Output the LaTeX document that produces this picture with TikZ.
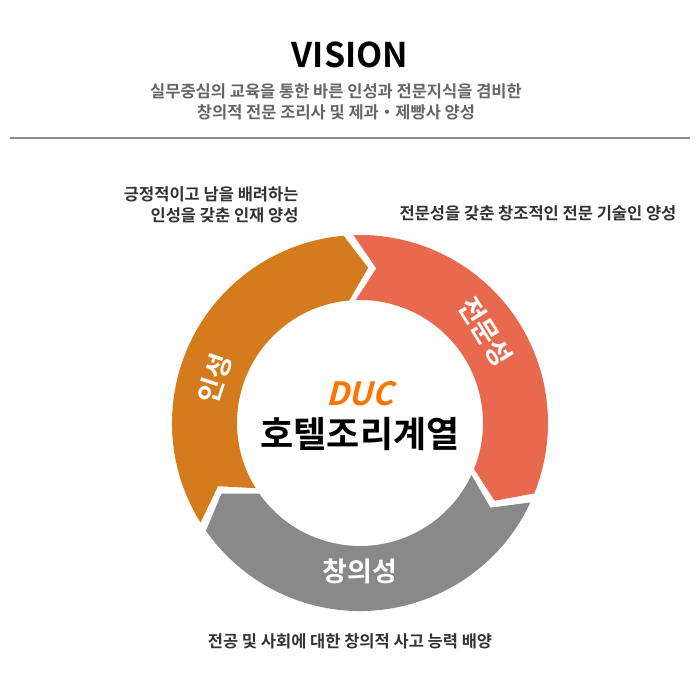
\documentclass[tikz,border=0pt]{standalone}
\usepackage{fontspec}
\usetikzlibrary{calc}
\newfontfamily\kr{Noto Sans CJK KR Bold}
\newfontfamily\krs{Noto Sans CJK KR Bold}[FakeSlant=0.25]
\definecolor{cor}{HTML}{D47B1E}
\definecolor{cred}{HTML}{E8694D}
\definecolor{cgr}{HTML}{898989}
\definecolor{ctx}{HTML}{333333}
\begin{document}
\begin{tikzpicture}[x=1pt,y=1pt,
  captext/.style={font=\kr\fontsize{16.5}{21}\selectfont, text=ctx},
  lbl/.style={font=\kr\fontsize{27}{30}\selectfont, text=white}]
\useasboundingbox (0,0) rectangle (700,700);
\def\ri{123}\def\ro{188}\def\rm{155.5}\def\dd{8}
\coordinate (c) at (360,277);
\newcommand{\segm}[3]{%
 \fill[#3] ($(c)+(#1:\ro)$) arc[start angle=#1,end angle=#2,radius=\ro]
   -- ($(c)+({#2-\dd}:\rm)$) -- ($(c)+(#2:\ri)$)
   arc[start angle=#2,end angle=#1,radius=\ri]
   -- ($(c)+({#1-\dd}:\rm)$) -- cycle;}
\segm{212}{95}{cor}
\segm{92}{-22}{cred}
\segm{-25}{-145}{cgr}
% titles
\node (vis) at (350,645) {\kr\fontsize{34}{38}\selectfont VISION};
\node[captext, align=center, text=black!60] (sub) at (336,598) {실무중심의 교육을 통한 바른 인성과 전문지식을 겸비한\\창의적 전문 조리사 및 제과・제빵사 양성};
\draw[black!45, line width=2pt] (10,562) -- (690,562);
\node[captext, align=right, anchor=east] (t1) at (302,495) {긍정적이고 남을 배려하는\\인성을 갖춘 인재 양성};
\node[captext] (t2) at (538,487) {전문성을 갖춘 창조적인 전문 기술인 양성};
\node[captext] (t3) at (350,59) {전공 및 사회에 대한 창의적 사고 능력 배양};
% segment labels
\node[lbl, rotate=72, inner sep=0pt] (s1) at ($(c)+(163:152)$) {인성};
\node[lbl, rotate=-58, inner sep=0pt] (s2) at ($(c)+(36:155)$) {전문성};
\node[lbl] (s3) at ($(c)+(-90:148)$) {창의성};
% center
\node[text=orange!90!red, font=\krs\fontsize{32}{34}\selectfont] (duc) at (360,306) {DUC};
\node[font=\kr\fontsize{36}{40}\selectfont] (ho) at (360,266) {호텔조리계열};
\end{tikzpicture}
\end{document}
